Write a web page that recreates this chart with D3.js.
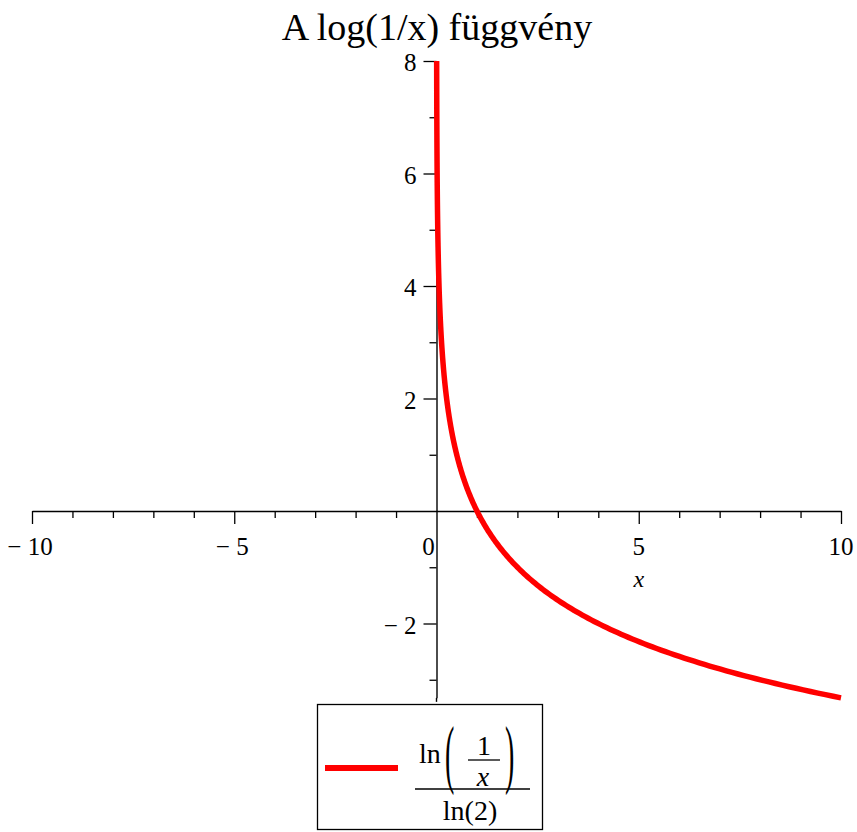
<!DOCTYPE html>
<html>
<head>
<meta charset="utf-8">
<script src="https://cdn.jsdelivr.net/npm/d3@7"></script>
<style>
  html, body { margin: 0; padding: 0; background: #fff; }
  svg text { font-family: "Liberation Serif", "Times New Roman", serif; fill: #000; }
</style>
</head>
<body>
<svg id="chart" width="857" height="832"></svg>
<script>
// Plot of log2(1/x) = ln(1/x)/ln(2) on the view x ∈ [-10, 10]
const titleText = "A log(1/x) függvény";
const xDomain = [-10, 10];
const yDomain = [-Math.log(10) / Math.log(2), 8];
const xMajorTicks = [-10, -5, 5, 10];
const xMinorTicks = [-9, -8, -7, -6, -4, -3, -2, -1, 1, 2, 3, 4, 6, 7, 8, 9];
const yMajorTicks = [-2, 2, 4, 6, 8];
const yMinorTicks = [-3, -1, 1, 3, 5, 7];
const xTickLabels = ["\u2212 10", "\u2212 5", "5", "10"];
const yTickLabels = ["\u2212 2", "2", "4", "6", "8"];

// the plotted function, exactly as the legend states it
const f = x => Math.log(1 / x) / Math.log(2);
// sample from where the curve enters the view (y = 8) out to x = 10, denser near the pole
const xStart = Math.pow(2, -8);
const samplesX = d3.range(0, 401).map(i => xStart * Math.pow(10 / xStart, i / 400));
const curve = samplesX.map(x => ({ x, y: f(x) }));

const svg = d3.select("#chart");

const x = d3.scaleLinear().domain(xDomain).range([32, 841]);
const y0px = 511, y8px = 61;
const pxPerUnit = (y0px - y8px) / 8;
const y = d3.scaleLinear().domain(yDomain)
  .range([y0px - yDomain[0] * pxPerUnit, y8px]);

// title
svg.append("text")
  .attr("x", 437).attr("y", 40)
  .attr("text-anchor", "middle")
  .style("font-size", "38px")
  .text(titleText);

// x axis: major ticks (long) and minor ticks (short), pointing down
const xAxisG = svg.append("g").attr("transform", `translate(0,${y(0)})`);
xAxisG.append("g")
  .call(d3.axisBottom(x).tickValues(xMajorTicks).tickSize(13).tickFormat("").tickSizeOuter(0))
  .call(g => g.select(".domain").attr("stroke-width", 1.4));
xAxisG.append("g")
  .call(d3.axisBottom(x).tickValues(xMinorTicks).tickSize(7).tickFormat("").tickSizeOuter(0))
  .call(g => g.select(".domain").remove());
xAxisG.selectAll(".tick line").attr("stroke-width", 1.3);

xMajorTicks.forEach((v, i) => {
  svg.append("text")
    .attr("x", x(v) + (v < 0 ? -2 : 0)).attr("y", y(0) + 44)
    .attr("text-anchor", "middle")
    .style("font-size", "25px")
    .text(xTickLabels[i]);
});
// origin label sits just left of the vertical axis
svg.append("text")
  .attr("x", x(0) - 8).attr("y", y(0) + 44)
  .attr("text-anchor", "middle")
  .style("font-size", "25px")
  .text("0");

// x axis label
svg.append("text")
  .attr("x", x(5)).attr("y", y(0) + 76)
  .attr("text-anchor", "middle")
  .style("font-size", "24px")
  .style("font-style", "italic")
  .text("x");

// y axis
const yAxisG = svg.append("g").attr("transform", `translate(${x(0)},0)`);
yAxisG.append("g")
  .call(d3.axisLeft(y).tickValues(yMajorTicks).tickSize(13).tickFormat("").tickSizeOuter(0))
  .call(g => g.select(".domain").attr("stroke-width", 1.4));
yAxisG.append("g")
  .call(d3.axisLeft(y).tickValues(yMinorTicks).tickSize(7).tickFormat("").tickSizeOuter(0))
  .call(g => g.select(".domain").remove());
yAxisG.selectAll(".tick line").attr("stroke-width", 1.3);
// extend the vertical axis slightly to the bottom of the view
yAxisG.append("line")
  .attr("x1", 0).attr("x2", 0)
  .attr("y1", y(yDomain[0])).attr("y2", y(yDomain[0]) + 4)
  .attr("stroke", "#000").attr("stroke-width", 1.4);

yMajorTicks.forEach((v, i) => {
  svg.append("text")
    .attr("x", x(0) - 20).attr("y", y(v) + 10)
    .attr("text-anchor", "end")
    .style("font-size", "25px")
    .text(yTickLabels[i]);
});

// the curve
const line = d3.line().x(d => x(d.x)).y(d => y(d.y));
svg.append("path")
  .datum(curve)
  .attr("d", line)
  .attr("fill", "none")
  .attr("stroke", "#ff0000")
  .attr("stroke-width", 5.5)
  .attr("stroke-linejoin", "round");

// legend
const lg = svg.append("g");
lg.append("rect")
  .attr("x", 317.5).attr("y", 704.5).attr("width", 225).attr("height", 125)
  .attr("fill", "#fff").attr("stroke", "#000").attr("stroke-width", 1.3);
lg.append("line")
  .attr("x1", 325).attr("x2", 398).attr("y1", 768).attr("y2", 768)
  .attr("stroke", "#ff0000").attr("stroke-width", 6);

// ln(1/x) / ln(2) typeset as a stacked fraction
lg.append("text").attr("x", 419).attr("y", 763).style("font-size", "28px").text("ln");
lg.append("text").attr("x", 445).attr("y", 779)
  .style("font-size", "28px")
  .attr("transform", "translate(445,779) scale(1,2.75) translate(-445,-779)")
  .text("(");
lg.append("text").attr("x", 505).attr("y", 779)
  .style("font-size", "28px")
  .attr("transform", "translate(505,779) scale(1,2.75) translate(-505,-779)")
  .text(")");
lg.append("text").attr("x", 484).attr("y", 755)
  .attr("text-anchor", "middle").style("font-size", "28px").text("1");
lg.append("line").attr("x1", 468).attr("x2", 500).attr("y1", 760).attr("y2", 760)
  .attr("stroke", "#000").attr("stroke-width", 1.3);
lg.append("text").attr("x", 483).attr("y", 786)
  .attr("text-anchor", "middle").style("font-size", "28px").style("font-style", "italic").text("x");
lg.append("line").attr("x1", 415).attr("x2", 530).attr("y1", 789).attr("y2", 789)
  .attr("stroke", "#000").attr("stroke-width", 1.3);
lg.append("text").attr("x", 470).attr("y", 820)
  .attr("text-anchor", "middle").style("font-size", "28px").text("ln(2)");
</script>
</body>
</html>
